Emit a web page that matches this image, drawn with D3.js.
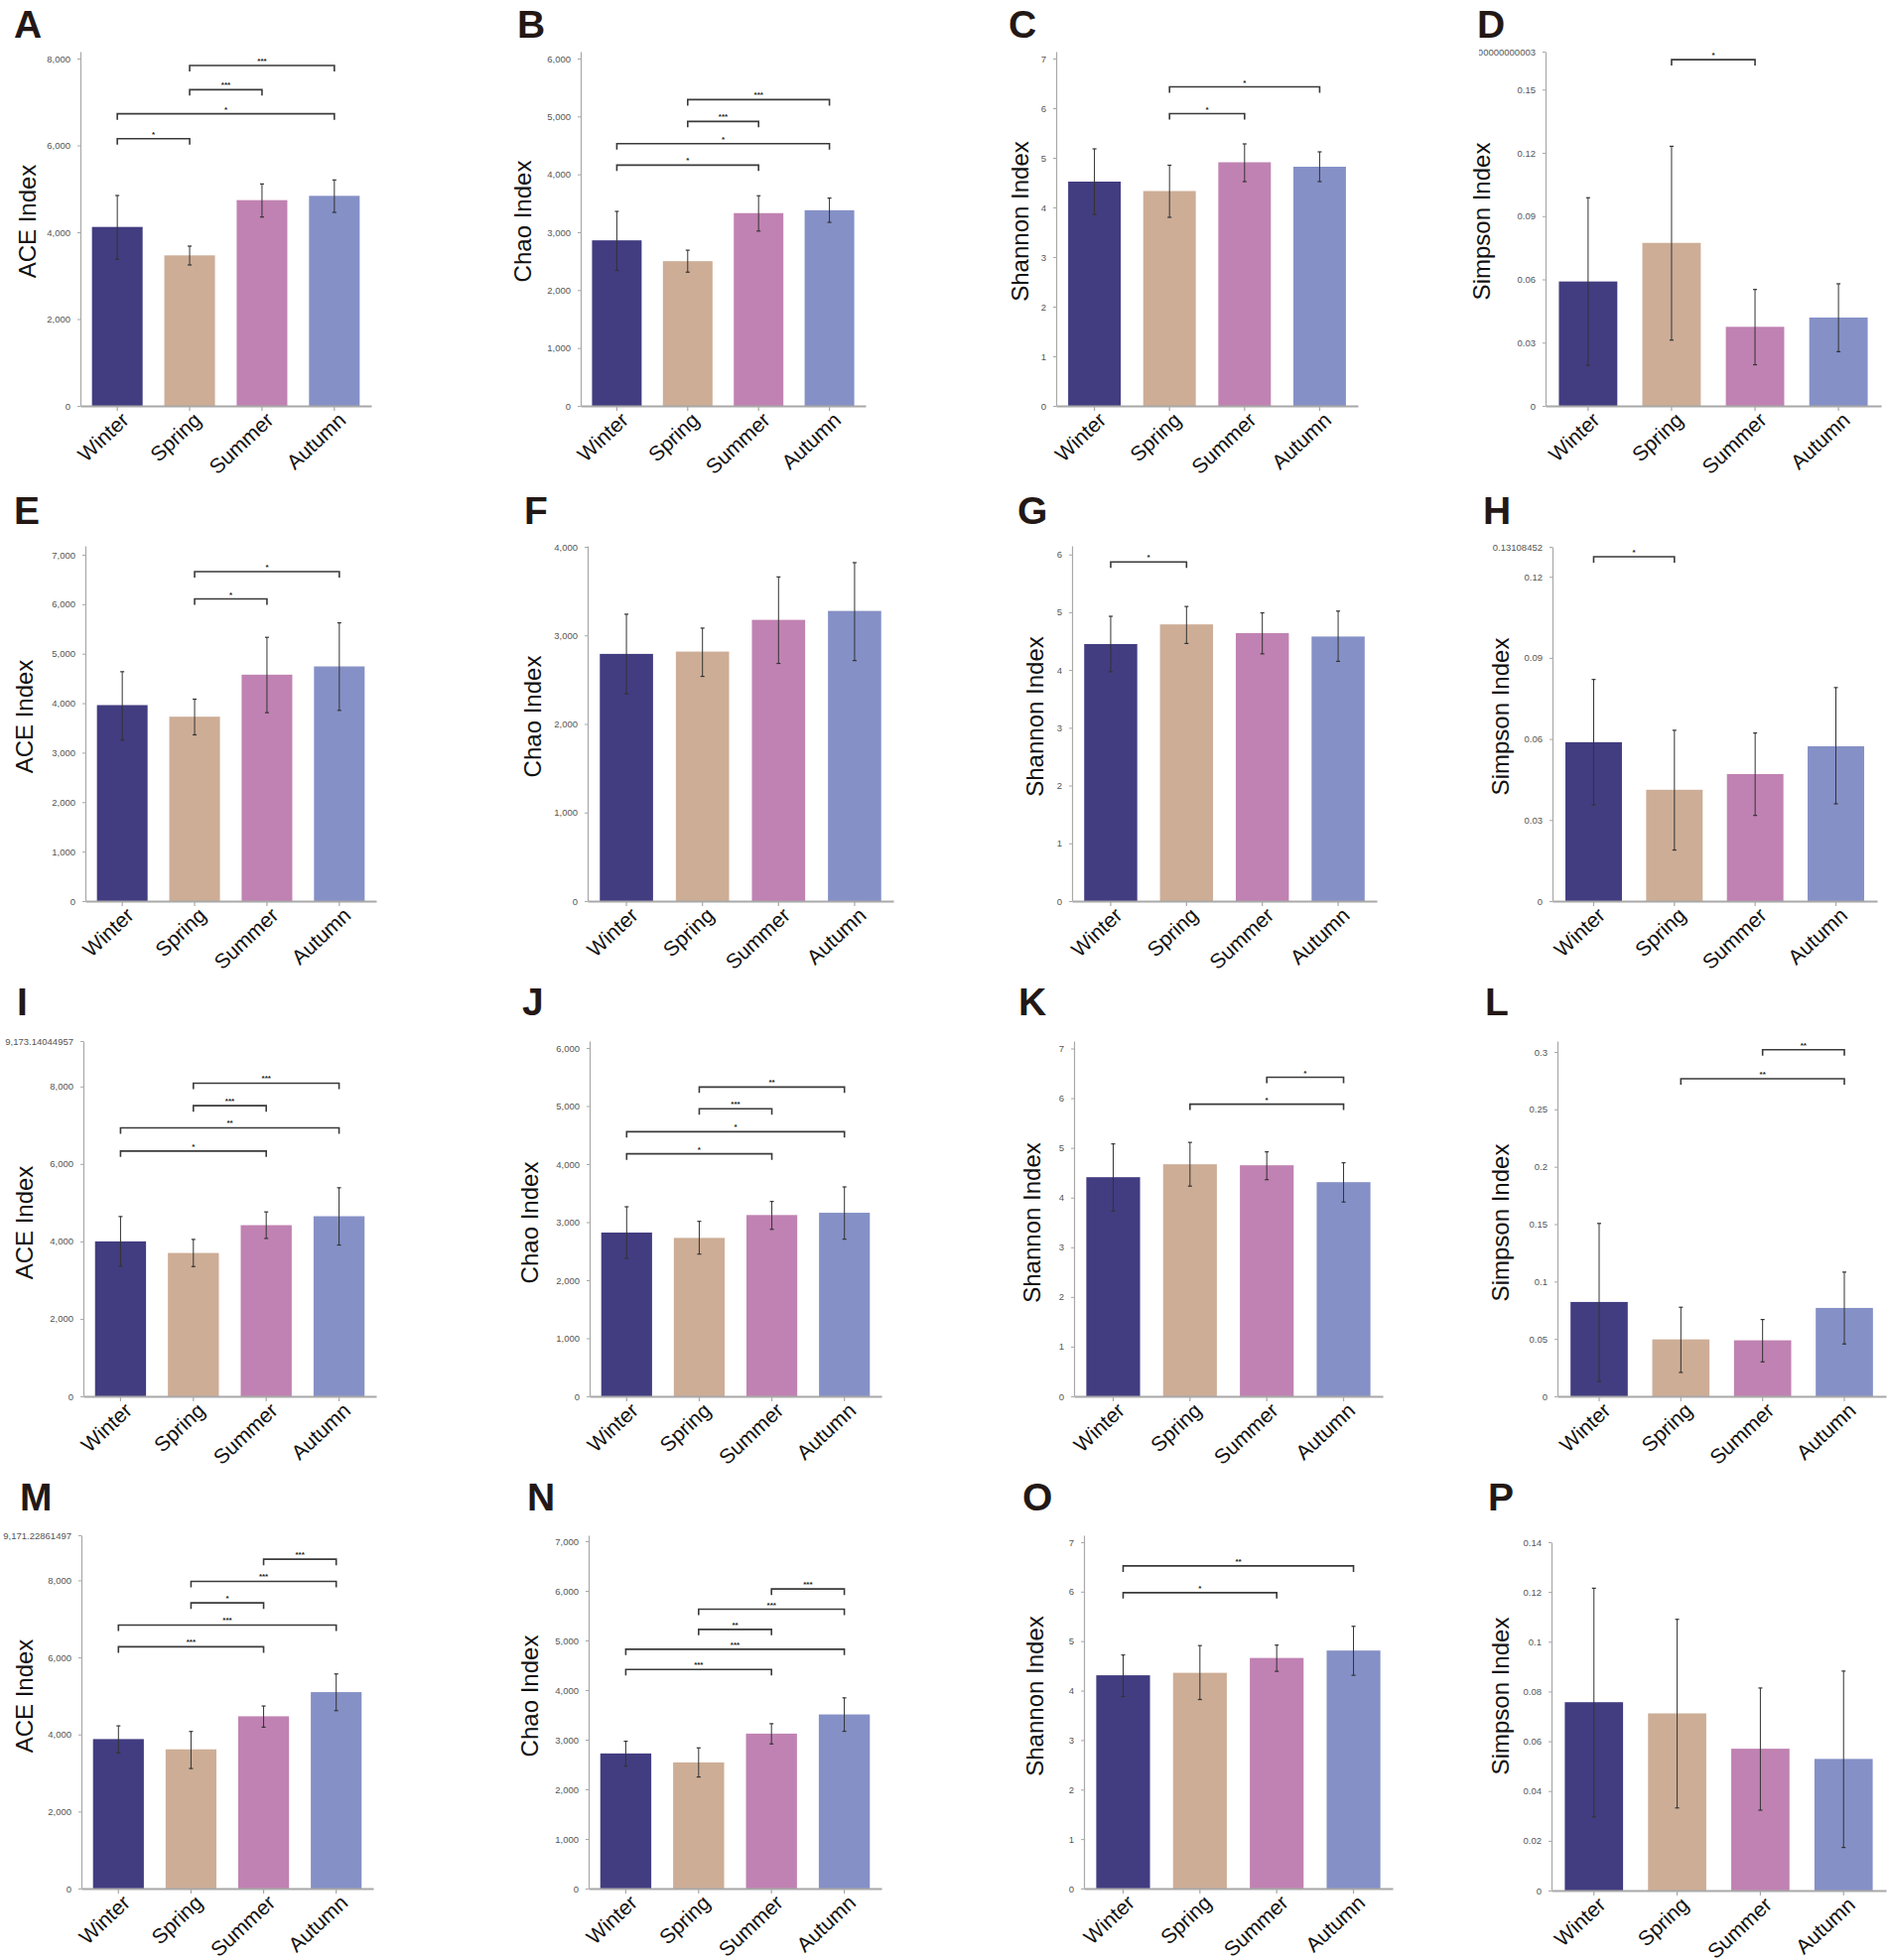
<!DOCTYPE html>
<html>
<head>
<meta charset="utf-8">
<script src="https://cdn.jsdelivr.net/npm/d3@7"></script>
<style>
  body { margin: 0; background: #fff; }
  svg { display: block; font-family: "Liberation Sans", Arial, sans-serif; }
</style>
</head>
<body>
<div class="figure"></div>
<script>
const width = 1902;
const height = 1975;

const seasons = ["Winter", "Spring", "Summer", "Autumn"];
const colors = ["#423d80", "#cdad96", "#c082b2", "#8590c6"];

const letters = ["A", "B", "C", "D", "E", "F", "G", "H", "I", "J", "K", "L", "M", "N", "O", "P"];
const yTitles = ["ACE Index", "Chao Index", "Shannon Index", "Simpson Index"];

// bar heights
const means = [
  [4122, 3467, 4739, 4838],
  [2860, 2500, 3330, 3380],
  [4.52, 4.33, 4.91, 4.82],
  [0.059, 0.0773, 0.0375, 0.0419],
  [3961, 3727, 4576, 4743],
  [2791, 2817, 3175, 3276],
  [4.45, 4.79, 4.64, 4.58],
  [0.0588, 0.0412, 0.047, 0.0573],
  [4000, 3701, 4419, 4650],
  [2821, 2729, 3123, 3162],
  [4.41, 4.67, 4.65, 4.31],
  [0.0822, 0.0496, 0.0488, 0.077],
  [3880, 3614, 4472, 5099],
  [2722, 2542, 3122, 3509],
  [4.31, 4.36, 4.66, 4.81],
  [0.0757, 0.0712, 0.057, 0.0529],
];

// error bar ends
const lowers = [
  [3375, 3246, 4350, 4457],
  [2340, 2310, 3020, 3170],
  [3.86, 3.8, 4.52, 4.52],
  [0.0192, 0.0312, 0.0195, 0.0257],
  [3253, 3360, 3808, 3854],
  [2340, 2537, 2683, 2716],
  [3.97, 4.46, 4.28, 4.15],
  [0.0356, 0.0189, 0.0317, 0.036],
  [3359, 3350, 4077, 3906],
  [2376, 2450, 2877, 2707],
  [3.73, 4.23, 4.36, 3.91],
  [0.013, 0.0208, 0.03, 0.0456],
  [3519, 3116, 4189, 4618],
  [2468, 2248, 2915, 3169],
  [3.88, 3.82, 4.39, 4.31],
  [0.0296, 0.0332, 0.0323, 0.0173],
];
const uppers = [
  [4846, 3680, 5112, 5204],
  [3360, 2690, 3630, 3590],
  [5.18, 4.85, 5.28, 5.12],
  [0.0987, 0.1231, 0.0552, 0.0579],
  [4636, 4081, 5331, 5624],
  [3239, 3082, 3660, 3821],
  [4.93, 5.1, 4.99, 5.02],
  [0.082, 0.0632, 0.0622, 0.079],
  [4641, 4051, 4761, 5385],
  [3265, 3014, 3356, 3607],
  [5.08, 5.11, 4.92, 4.7],
  [0.1506, 0.0776, 0.0669, 0.1082],
  [4223, 4077, 4738, 5571],
  [2969, 2835, 3322, 3843],
  [4.72, 4.91, 4.92, 5.3],
  [0.1215, 0.109, 0.0814, 0.0882],
];

// y axis: top of axis line, tick step, last regular tick, odd label at the top
const yMaxes = [8160, 6120, 7.14, 0.168, 7180, 4011, 6.15, 0.13108452,
  9173.14044957, 6120, 7.15, 0.3095, 9171.22861497, 7120, 7.14, 0.14];
const tickSteps = [2000, 1000, 1, 0.03, 1000, 1000, 1, 0.03,
  2000, 1000, 1, 0.05, 2000, 1000, 1, 0.02];
const tickTops = [8000, 6000, 7, 0.15, 7000, 4000, 6, 0.12,
  8000, 6000, 7, 0.3, 8000, 7000, 7, 0.14];
const topLabels = [null, null, null, "0.16800000000000003", null, null, null, "0.13108452",
  "9,173.14044957", null, null, null, "9,171.22861497", null, null, null];

// significance brackets: [from, to, height, stars]
const brackets = [
  [[1, 3, 7840, "***"], [1, 2, 7284, "***"], [0, 3, 6728, "*"], [0, 1, 6156, "*"]],
  [[1, 3, 5290, "***"], [1, 2, 4914, "***"], [0, 3, 4531, "*"], [0, 2, 4160, "*"]],
  [[1, 3, 6.43, "*"], [1, 2, 5.89, "*"]],
  [[1, 2, 0.1642, "*"]],
  [[1, 3, 6660, "*"], [1, 2, 6106, "*"]],
  [],
  [[0, 1, 5.87, "*"]],
  [[0, 1, 0.1274, "*"]],
  [[1, 3, 8085, "***"], [1, 2, 7504, "***"], [0, 3, 6932, "**"], [0, 2, 6333, "*"]],
  [[1, 3, 5328, "**"], [1, 2, 4952, "***"], [0, 3, 4558, "*"], [0, 2, 4177, "*"]],
  [[2, 3, 6.42, "*"], [1, 3, 5.88, "*"]],
  [[2, 3, 0.302, "**"], [1, 3, 0.2767, "**"]],
  [[2, 3, 8549, "***"], [1, 3, 7974, "***"], [1, 2, 7416, "*"], [0, 3, 6841, "***"], [0, 2, 6275, "***"]],
  [[2, 3, 6037, "***"], [1, 3, 5630, "***"], [1, 2, 5223, "**"], [0, 3, 4823, "***"], [0, 2, 4416, "***"]],
  [[0, 3, 6.52, "**"], [0, 2, 5.98, "*"]],
  [],
];

// panel frames: x0, x1, yTop, yBase, titleX, titleY, letterX, letterY
const frames = [
  [81, 374, 52, 409, 28, 223, 14, 38],
  [585, 872, 52, 409, 527, 223, 521, 38],
  [1064, 1368, 52, 409, 1028, 223, 1016, 38],
  [1557, 1895, 52, 409, 1493, 223, 1488, 38],
  [86, 379, 550, 908, 25, 722, 14, 528],
  [592, 900, 550, 908, 537, 722, 528, 528],
  [1080, 1387, 550, 908, 1043, 722, 1025, 528],
  [1564, 1891, 551, 908, 1512, 722, 1494, 528],
  [84, 379, 1049, 1407, 25, 1232, 17, 1023],
  [594, 888, 1049, 1407, 534, 1232, 526, 1023],
  [1082, 1393, 1049, 1407, 1040, 1232, 1026, 1023],
  [1569, 1900, 1049, 1407, 1512, 1232, 1496, 1023],
  [82, 376, 1547, 1903, 25, 1709, 20, 1522],
  [593, 888, 1547, 1903, 534, 1709, 531, 1522],
  [1092, 1403, 1547, 1903, 1043, 1709, 1030, 1522],
  [1563, 1900, 1554, 1905, 1512, 1709, 1499, 1522],
];

const svg = d3
  .select(".figure")
  .append("svg")
  .attr("width", width)
  .attr("height", height);

svg.append("rect").attr("width", width).attr("height", height).attr("fill", "#fff");

// panel D's long top label runs off the left edge of its panel
svg
  .append("clipPath")
  .attr("id", "clip-d")
  .append("rect")
  .attr("x", 1490)
  .attr("y", 0)
  .attr("width", 412)
  .attr("height", 480);

letters.forEach((letter, p) => {
  const [x0, x1, yTop, yBase, tx, ty, lx, ly] = frames[p];
  const g = svg.append("g").attr("class", "panel");

  const xScale = d3
    .scaleBand()
    .domain(seasons)
    .range([x0, x1])
    .paddingInner(0.3)
    .paddingOuter(0.16);
  const yScale = d3.scaleLinear().domain([0, yMaxes[p]]).range([yBase, yTop]);

  // panel letter
  g.append("text")
    .attr("x", lx)
    .attr("y", ly)
    .attr("font-size", 39)
    .attr("font-weight", "bold")
    .attr("fill", "#231815")
    .text(letter);

  // y title
  g.append("text")
    .attr("transform", "translate(" + tx + "," + ty + ") rotate(-90)")
    .attr("text-anchor", "middle")
    .attr("dy", "0.35em")
    .attr("font-size", 24)
    .attr("fill", "#111")
    .text(yTitles[p % 4]);

  // y axis
  const n = Math.round(tickTops[p] / tickSteps[p]);
  const ticks = d3.range(n + 1).map((i) => +(i * tickSteps[p]).toFixed(6));
  if (topLabels[p]) ticks.push(yMaxes[p]);
  const yAxis = d3
    .axisLeft(yScale)
    .tickValues(ticks)
    .tickSize(3)
    .tickSizeOuter(0)
    .tickPadding(7)
    .tickFormat((d) => (d === yMaxes[p] && topLabels[p] ? topLabels[p] : d3.format(",")(d)));
  const wrap = g.append("g");
  if (p === 3) wrap.attr("clip-path", "url(#clip-d)");
  const ya = wrap
    .append("g")
    .attr("transform", "translate(" + x0 + ",0)")
    .call(yAxis);
  ya.select(".domain").attr("stroke", "#a8a8a8").attr("stroke-width", 1.2);
  ya.selectAll(".tick line").attr("stroke", "#a8a8a8");
  ya.selectAll(".tick text")
    .attr("font-size", 9.5)
    .attr("fill", "#555")
    .attr("font-family", "'Liberation Sans', Arial, sans-serif");

  // bars
  g.selectAll("rect.bar")
    .data(seasons)
    .enter()
    .append("rect")
    .attr("class", "bar")
    .attr("x", (d) => xScale(d))
    .attr("y", (d, i) => yScale(means[p][i]))
    .attr("width", xScale.bandwidth())
    .attr("height", (d, i) => yBase - yScale(means[p][i]))
    .attr("fill", (d, i) => colors[i]);

  // error bars
  const cx = (i) => xScale(seasons[i]) + xScale.bandwidth() / 2;
  seasons.forEach((s, i) => {
    g.append("line")
      .attr("x1", cx(i)).attr("x2", cx(i))
      .attr("y1", yScale(lowers[p][i])).attr("y2", yScale(uppers[p][i]))
      .attr("stroke", "#333").attr("stroke-width", 1);
    [lowers[p][i], uppers[p][i]].forEach((v) => {
      g.append("line")
        .attr("x1", cx(i) - 2).attr("x2", cx(i) + 2)
        .attr("y1", yScale(v)).attr("y2", yScale(v))
        .attr("stroke", "#333").attr("stroke-width", 1.2);
    });
  });

  // x axis
  const xAxis = d3.axisBottom(xScale).tickSize(5).tickSizeOuter(0).tickFormat("");
  const xa = g
    .append("g")
    .attr("transform", "translate(0," + yBase + ")")
    .call(xAxis);
  xa.select(".domain").attr("stroke", "#a8a8a8").attr("stroke-width", 2);
  xa.selectAll(".tick line").attr("stroke", "#a8a8a8").attr("stroke-width", 1.2);

  g.selectAll("text.xlab")
    .data(seasons)
    .enter()
    .append("text")
    .attr("class", "xlab")
    .attr("transform", (d, i) => "translate(" + (cx(i) + 13) + "," + (yBase + 16) + ") rotate(-43)")
    .attr("text-anchor", "end")
    .attr("font-size", 21)
    .attr("fill", "#111")
    .text((d) => d);

  // significance brackets
  brackets[p].forEach(([a, b, v, stars]) => {
    const y = yScale(v);
    g.append("path")
      .attr("d", "M" + cx(a) + "," + (y + 6) + "V" + y + "H" + cx(b) + "V" + (y + 6))
      .attr("fill", "none")
      .attr("stroke", "#3a3a3a")
      .attr("stroke-width", 1.6);
    g.append("text")
      .attr("x", (cx(a) + cx(b)) / 2)
      .attr("y", y - 2)
      .attr("text-anchor", "middle")
      .attr("font-size", 8)
      .attr("font-weight", "bold")
      .attr("fill", "#222")
      .text(stars);
  });
});
</script>
</body>
</html>
